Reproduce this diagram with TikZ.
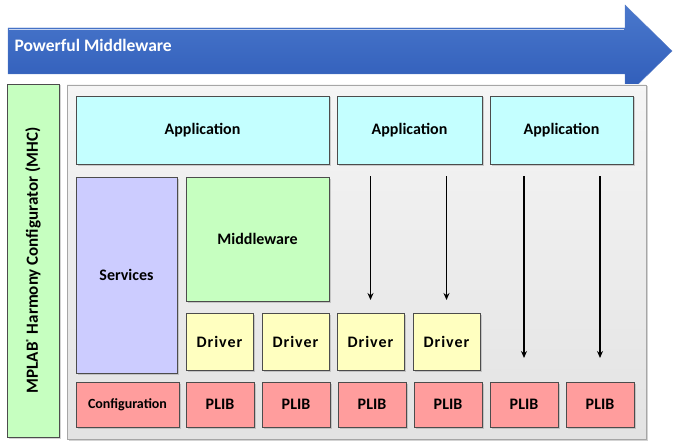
\documentclass[tikz,border=0pt]{standalone}
\usepackage{fontspec}
\setmainfont{Carlito}
\usepackage{xcolor}
\usetikzlibrary{arrows.meta, positioning, shadows}

\definecolor{appcyan}{HTML}{C4FFFF}
\definecolor{svcblue}{HTML}{CCCCFF}
\definecolor{mwgreen}{HTML}{C6FFC0}
\definecolor{drvyellow}{HTML}{FFFFC0}
\definecolor{plibred}{HTML}{FF9D9D}
\definecolor{bannertop}{HTML}{4A78CC}
\definecolor{bannerbot}{HTML}{2E5BB8}

\begin{document}
\begin{tikzpicture}[
            x=1pt, y=-1pt,
            font=\bfseries\fontsize{16}{18}\selectfont,
            block/.style={rectangle, draw=black!70, thick, anchor=north west, inner sep=0pt, outer sep=0pt, align=center,
                drop shadow={opacity=0.35, shadow xshift=1.5pt, shadow yshift=-1.5pt}},
            app/.style={block, fill=appcyan, minimum height=68pt},
            driver/.style={block, fill=drvyellow, minimum width=67pt, minimum height=57pt,
                font=\bfseries\fontsize{16}{18}\selectfont\addfontfeature{LetterSpace=6}},
            plib/.style={block, fill=plibred, minimum width=68pt, minimum height=45pt},
            flow/.style={draw, line width=1.3pt, -{Stealth[length=7pt, width=6pt]}}
        ]
        \useasboundingbox (0,0) rectangle (675,444);

        % --- Banner arrow ---
        \path[top color=bannertop, bottom color=bannerbot, draw=bannerbot!80!white]
            (8,28) -- (625,28) -- (625,5) -- (672,51) -- (625,97) -- (625,74) -- (8,74) -- cycle;
        \draw[white!70!bannertop, line width=1pt] (9,30) -- (624,30);
        \node[anchor=west, text=white, font=\bfseries\fontsize{17.5}{20}\selectfont] (banner) at (11,45) {Powerful Middleware};

        % --- Configurator and frame ---
        \node[block, fill=mwgreen, minimum width=52pt, minimum height=353pt] (mhc) at (7,84) {};
        \node[rotate=90, font=\bfseries\fontsize{17}{19}\selectfont] (mhclabel) at (mhc.center)
            {MPLAB\textsuperscript{\fontsize{8}{8}\selectfont ®} Harmony Configurator (MHC)};
        \node[block, draw=black!35, thin, top color=gray!8, bottom color=gray!22,
              minimum width=579pt, minimum height=354pt] (frame) at (67,85) {};

        % --- Applications ---
        \node[app, minimum width=253pt] (app1) at (76,96) {Application};
        \node[app, minimum width=145pt, right=8pt of app1] (app2) {Application};
        \node[app, minimum width=143pt, right=8pt of app2] (app3) {Application};

        % --- Services and middleware ---
        \node[block, fill=svcblue, minimum width=101pt, minimum height=196pt] (services) at (76,177) {Services};
        \node[block, fill=mwgreen, minimum width=143pt, minimum height=124pt] (middleware) at (186,177) {Middleware};

        % --- Drivers ---
        \node[driver] (drv1) at (186,313) {Driver};
        \node[driver, right=9pt of drv1] (drv2) {Driver};
        \node[driver, right=8pt of drv2] (drv3) {Driver};
        \node[driver, right=9pt of drv3] (drv4) {Driver};

        % --- Peripheral libraries ---
        \node[block, fill=plibred, minimum width=103pt, minimum height=45pt, font=\bfseries\fontsize{14}{16}\selectfont] (config) at (76,382) {Configuration};
        \node[plib] (plib1) at (186,382) {PLIB};
        \node[plib, right=8pt of plib1] (plib2) {PLIB};
        \node[plib, right=8pt of plib2] (plib3) {PLIB};
        \node[plib, right=8pt of plib3] (plib4) {PLIB};
        \node[plib, right=8pt of plib4] (plib5) {PLIB};
        \node[plib, right=8pt of plib5] (plib6) {PLIB};

        % --- Direct access arrows ---
        \draw[flow, shorten <=12pt, shorten >=13pt] (drv3 |- app2.south) -- (drv3.north);
        \draw[flow, shorten <=12pt, shorten >=13pt] (drv4 |- app2.south) -- (drv4.north);
        \draw[flow, shorten <=12pt, shorten >=24pt] (plib5 |- app3.south) -- (plib5.north);
        \draw[flow, shorten <=12pt, shorten >=24pt] (plib6 |- app3.south) -- (plib6.north);

\end{tikzpicture}
\end{document}
